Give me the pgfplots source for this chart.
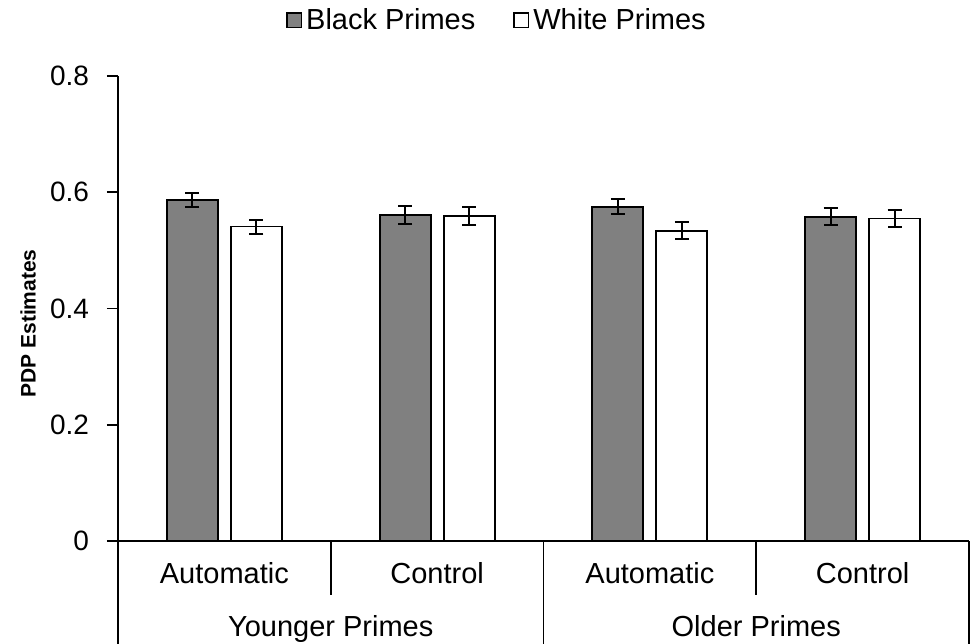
\documentclass[border=0pt]{standalone}
\usepackage{pgfplots}
\pgfplotsset{compat=1.18}
\usepackage{fontspec}
\setmainfont{Liberation Sans}
\begin{document}
\begin{tikzpicture}
\begin{axis}[
  scale only axis, width=425.5pt, height=232.5pt,
  xmin=0, xmax=4, ymin=0, ymax=0.8,
  clip=false,
  axis lines*=left,
  axis line style={black, line width=0.8pt},
  xtick=\empty,
  ytick={0,0.2,0.4,0.6,0.8},
  tick align=outside, major tick length=5.5pt,
  ytick style={black, line width=0.8pt},
  yticklabel style={font=\fontsize{14}{16}\selectfont, xshift=-5.5pt},
  /pgf/number format/assume math mode=true,
  ybar, bar width=25.5pt,
  legend image code/.code={\draw[#1, line width=0.8pt] (0pt,-3.6pt) rectangle (7.2pt,3.6pt);},
  legend style={at={(0.4465,1.12)}, anchor=center, draw=none, fill=none,
    legend columns=2, font=\fontsize{14.5}{17}\selectfont,
    /tikz/every even column/.append style={column sep=17pt},
    inner sep=0pt},
]
\addplot[ybar, bar shift=-16pt, fill=gray, draw=black, line width=0.9pt,
  error bars/.cd, y dir=both, y explicit,
  error bar style={line width=1pt, black},
  error mark options={rotate=90, mark size=3.5pt, line width=1pt, black}]
  coordinates {(0.5,0.586) +- (0,0.012) (1.5,0.561) +- (0,0.016)
               (2.5,0.575) +- (0,0.013) (3.5,0.558) +- (0,0.015)};
\addplot[ybar, bar shift=16pt, fill=white, draw=black, line width=0.9pt,
  error bars/.cd, y dir=both, y explicit,
  error bar style={line width=1pt, black},
  error mark options={rotate=90, mark size=3.5pt, line width=1pt, black}]
  coordinates {(0.5,0.541) +- (0,0.012) (1.5,0.559) +- (0,0.016)
               (2.5,0.534) +- (0,0.014) (3.5,0.555) +- (0,0.014)};
\legend{Black Primes, White Primes}
\draw[line width=0.8pt] (axis cs:0,0) -- ++(0,-51.5pt);
\draw[line width=0.8pt] (axis cs:1,0) -- ++(0,-27pt);
\draw[line width=0.8pt] (axis cs:2,0) -- ++(0,-51.5pt);
\draw[line width=0.8pt] (axis cs:3,0) -- ++(0,-27pt);
\draw[line width=0.8pt] (axis cs:4,0) -- ++(0,-51.5pt);
\node[anchor=base, font=\fontsize{14.5}{17}\selectfont] at ([yshift=-21.5pt]axis cs:0.5,0) {Automatic};
\node[anchor=base, font=\fontsize{14.5}{17}\selectfont] at ([yshift=-21.5pt]axis cs:1.5,0) {Control};
\node[anchor=base, font=\fontsize{14.5}{17}\selectfont] at ([yshift=-21.5pt]axis cs:2.5,0) {Automatic};
\node[anchor=base, font=\fontsize{14.5}{17}\selectfont] at ([yshift=-21.5pt]axis cs:3.5,0) {Control};
\node[anchor=base, font=\fontsize{14.5}{17}\selectfont] at ([yshift=-47.75pt]axis cs:1,0) {Younger Primes};
\node[anchor=base, font=\fontsize{14.5}{17}\selectfont] at ([yshift=-47.75pt]axis cs:3,0) {Older Primes};
\node[rotate=90, font=\fontsize{10.5}{12}\selectfont\bfseries] at ([xshift=-45pt, yshift=-7.5pt]rel axis cs:0,0.5) {PDP Estimates};
\coordinate (ll) at (rel axis cs:0,0);
\coordinate (ur) at (rel axis cs:1,1);
\end{axis}
\pgfresetboundingbox
\path[use as bounding box] ([xshift=-59pt, yshift=-51.5pt]ll) rectangle ([xshift=1pt, yshift=38pt]ur);
\end{tikzpicture}
\end{document}
